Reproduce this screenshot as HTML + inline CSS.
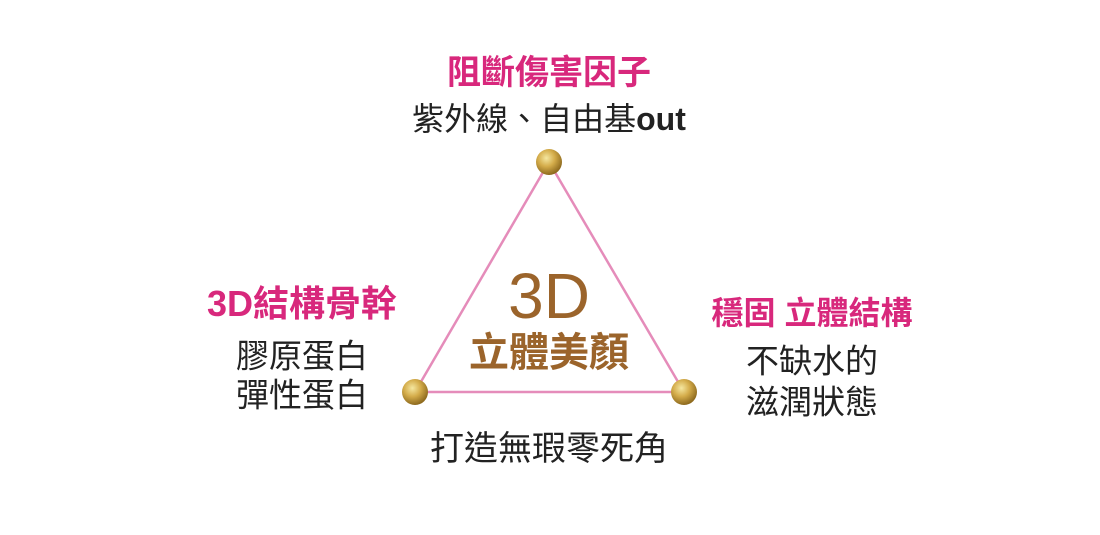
<!DOCTYPE html>
<html><head><meta charset="utf-8"><style>
html,body{margin:0;padding:0;background:#fff;}
#c{position:relative;width:1100px;height:535px;overflow:hidden;font-family:"Liberation Sans","Noto Sans CJK TC",sans-serif;}
.t{position:absolute;white-space:nowrap;transform:translate(-50%,-50%);line-height:1;}
.p{color:#d8287c;font-weight:bold;font-size:32px;}
.k{color:#222;font-size:33px;}
.g{color:#9b642b;font-weight:bold;}
</style></head><body><div id="c">
<svg width="1100" height="535" style="position:absolute;left:0;top:0">
<defs><radialGradient id="b" cx="40%" cy="35%" r="65%"><stop offset="0" stop-color="#f5e7a0"/><stop offset="0.5" stop-color="#d4ac4a"/><stop offset="1" stop-color="#8e6a1e"/></radialGradient></defs>
<polygon points="549,162 415,392 684,392" fill="none" stroke="#e58cba" stroke-width="2.5"/>
<circle cx="549" cy="162" r="13" fill="url(#b)"/>
<circle cx="415" cy="392" r="13" fill="url(#b)"/>
<circle cx="684" cy="392" r="13" fill="url(#b)"/>
</svg>
<div class="t p" style="left:549px;top:73px;font-size:34px">阻斷傷害因子</div>
<div class="t k" style="left:549px;top:119px;font-size:32px">紫外線、自由基<b>out</b></div>
<div class="t g" style="left:549px;top:296px;font-size:64px;font-weight:normal">3D</div>
<div class="t g" style="left:549px;top:353px;font-size:40px">立體美顏</div>
<div class="t p" style="left:302px;top:304px;font-size:36px">3D結構骨幹</div>
<div class="t k" style="left:302px;top:356px">膠原蛋白</div>
<div class="t k" style="left:302px;top:395px">彈性蛋白</div>
<div class="t p" style="left:812px;top:313px">穩固 立體結構</div>
<div class="t k" style="left:812px;top:361px">不缺水的</div>
<div class="t k" style="left:812px;top:402px">滋潤狀態</div>
<div class="t k" style="left:549px;top:449px;font-size:34px">打造無瑕零死角</div>
</div></body></html>
